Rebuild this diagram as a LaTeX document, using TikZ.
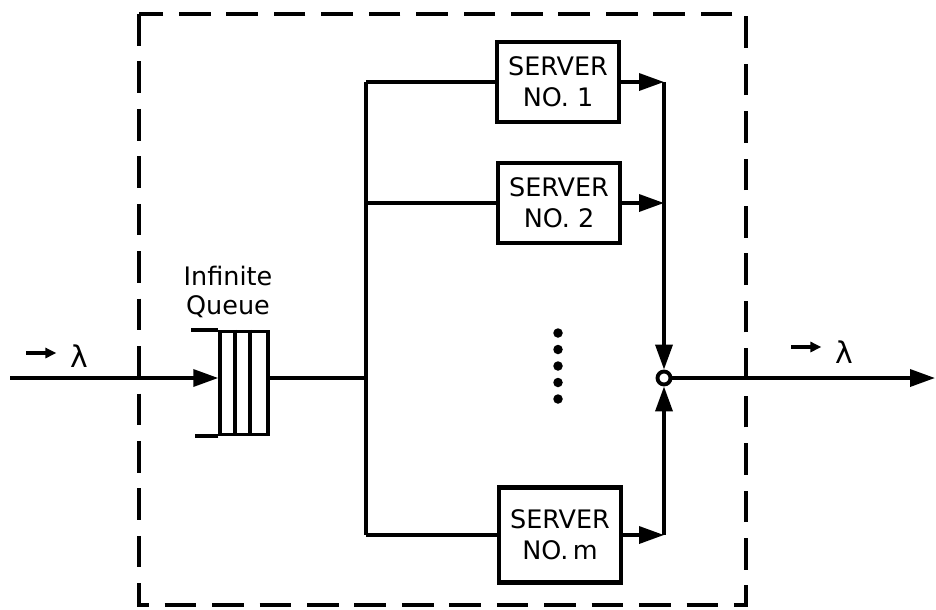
\documentclass[tikz,border=0pt]{standalone}
\usepackage{fontspec}
\setmainfont{DejaVu Sans}
\usetikzlibrary{arrows.meta, positioning, calc}

\begin{document}
\begin{tikzpicture}[
    x=0.02cm, y=-0.02cm,
    line width=2pt,
    server/.style={rectangle, draw, line width=2.5pt, minimum width=2.44cm, minimum height=1.6cm, align=center, inner sep=0pt, font=\fontsize{14.5}{17.6}\selectfont},
    queue/.style={rectangle, draw, minimum width=0.96cm, minimum height=2.06cm, inner sep=0pt},
    qtext/.style={align=center, inner sep=0pt, font=\fontsize{14.5}{16.5}\selectfont},
    dot/.style={circle, fill, inner sep=0pt, minimum width=0.16cm, minimum height=0.19cm},
    arrow/.style={-{Triangle[length=0.5cm,width=0.34cm]}},
    lamarrow/.style={-{Triangle[length=0.22cm,width=0.2cm]}, line width=2.2pt},
    dashbox/.style={dash pattern=on 18pt off 9pt, line width=1.9pt}
]
    \useasboundingbox (0,0) rectangle (936,609);
    \draw[dashbox] (139,14) rectangle (746,605);

    \node[queue] (queue) at (244,383) {};
    \node[qtext] (qname) at (228,292) {Infinite\\Queue};
    \node[server] (s1) at (558,82) {SERVER\\NO. 1};
    \node[server] (s2) at (559,203) {SERVER\\NO. 2};
    \node[server, minimum height=1.9cm] (sm) at (560,535) {SERVER\\NO.\,m};
    \node[circle, draw, line width=2.2pt, minimum size=0.26cm, inner sep=0pt] (join) at (664,378) {};
    \coordinate (in) at (10,378);
    \coordinate (split) at (366,378);
    \coordinate (out) at (935,378);
    \node[qtext, font=\fontsize{17}{18}\selectfont] (lamin) at (79,356) {λ};
    \node[qtext, font=\fontsize{17}{18}\selectfont] (lamout) at (844,352) {λ};

    \draw ($(queue.north west)+(17,0)$) -- ($(queue.south west)+(17,0)$);
    \draw ($(queue.north west)+(32,0)$) -- ($(queue.south west)+(32,0)$);
    \draw (queue.north west) -- ++(-27,0);
    \draw (queue.south west) -- ++(-23,0);

    \foreach \i in {0,...,4}
        \node[dot] (dot\i) at (558,333+16.5*\i) {};

    \draw[arrow] (in) -- (in -| queue.west);
    \draw (queue.east |- split) -- (split);
    \draw (split |- s1.west) -- (split |- sm.west);
    \draw (split |- s1.west) -- (s1.west);
    \draw (split |- s2.west) -- (s2.west);
    \draw (split |- sm.west) -- (sm.west);

    \draw[arrow] (s1.east) -- (s1.east -| join);
    \draw[arrow] (s2.east) -- (s2.east -| join);
    \draw[arrow] (sm.east) -- (sm.east -| join);
    \draw[arrow] (s1.east -| join) -- (join.north);
    \draw[arrow] (sm.east -| join) -- (join.south);
    \draw[arrow] (join.east) -- (out);

    \draw[lamarrow] ($(lamin.west)+(-42,-3)$) -- ($(lamin.west)+(-12,-3)$);
    \draw[lamarrow] ($(lamout.west)+(-42,-5)$) -- ($(lamout.west)+(-12,-5)$);
\end{tikzpicture}
\end{document}
